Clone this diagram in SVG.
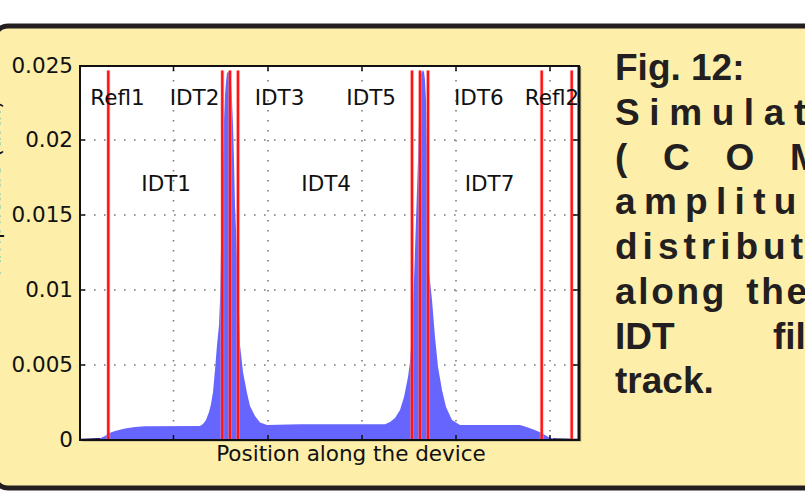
<svg xmlns="http://www.w3.org/2000/svg" width="805" height="496" viewBox="0 0 805 496">
  <style>
    .plot-text { font-family: "DejaVu Sans", Verdana, sans-serif; font-size: 21.5px; fill: #111; }
    .caption { font-family: "Liberation Sans", Arial, Helvetica, sans-serif; font-size: 37px; font-weight: bold; fill: #231f20; }
    .grid { stroke: #7a7a7a; stroke-width: 1.6; stroke-dasharray: 1.6 8.4; fill: none; }
    .tick { stroke: #111; stroke-width: 1.5; }
    .marker-line { stroke: #ff1414; stroke-width: 2.4; }
    .marker-halo { stroke: #ff9a9a; stroke-width: 4; opacity: 0.5; }
  </style>

  <rect width="805" height="496" fill="#ffffff"/>

  <!-- panel background with dark rounded border -->
  <g id="panel">
    <rect x="-6" y="26" width="830" height="462" rx="14" fill="#fdeeaa" stroke="#231f20" stroke-width="5"/>
  </g>

  <!-- plot -->
  <g id="plot">
    <!-- drop shadow -->
    <rect x="82" y="68" width="499.5" height="374" fill="#d9cc94"/>
    <rect x="80" y="66" width="499" height="374" fill="#ffffff"/>

    <!-- dotted grid -->
    <g id="grid">
      <path class="grid" d="M84,140 H576 M84,215 H576 M84,290 H576 M84,365 H576"/>
      <path class="grid" d="M173.5,70 V437 M268,70 V437 M362,70 V437 M456,70 V437 M550,70 V437"/>
    </g>

    <!-- amplitude distribution -->
    <path id="amplitude" fill="#6666ff" d="M80,440 L80,439.5 L90,439.3 L100,438.3 L105,436 L108,433.5 L115,431 L125,428.5 L135,427 L145,426.2 L200,426 L203,424 L206,420 L209,412 L211,404 L213,392 L215,370 L217,345 L219,325 L220,300 L221,250 L222,215 L223,170 L224,120 L225,95 L226,82 L227,73 L229,71 L230,74 L231,85 L232,100 L233,125 L234,160 L235,205 L236,230 L237,260 L238,278 L240,345 L243,372 L247,393 L250,406 L255,416 L260,422.5 L267,425 L300,424.2 L385,424.3 L390,422 L395,418 L400,410 L404,397 L408,377 L410,362 L412,333 L414,280 L416,220 L418,160 L419,120 L420,90 L421,74 L423,70 L424,72 L425,80 L426,100 L427,150 L428,262 L432,300 L435,337 L438,367 L442,390 L446,407 L452,420 L460,425 L520,425 L525,426.5 L530,428.3 L536,430.5 L541,432.7 L545,435 L548,436.7 L552,438.2 L555,439 L565,439.5 L578,439.6 L578,440 Z"/>
    <path d="M80,439.3 L100,438.6 M553,439 L578,439.5" stroke="#1a1a66" stroke-width="1.3" fill="none"/>

    <!-- transducer / reflector boundaries -->
    <g id="boundaries">
      <path class="marker-halo" d="M108.3,70.5 V440 M222.3,70.5 V440 M230,70.5 V440 M238,70.5 V440 M412,70.5 V440 M420,70.5 V440 M428,70.5 V440 M541.7,70.5 V440 M571.7,70.5 V440"/>
      <path class="marker-line" d="M108.3,70.5 V440 M222.3,70.5 V440 M230,70.5 V440 M238,70.5 V440 M412,70.5 V440 M420,70.5 V440 M428,70.5 V440 M541.7,70.5 V440 M571.7,70.5 V440"/>
    </g>

    <!-- region labels -->
    <g id="region-labels" class="plot-text">
      <text x="90.3" y="105">Refl1</text>
      <text x="169.7" y="105">IDT2</text>
      <text x="254.7" y="105">IDT3</text>
      <text x="346.3" y="105">IDT5</text>
      <text x="454" y="105">IDT6</text>
      <text x="524.7" y="105">Refl2</text>
      <text x="141.3" y="191">IDT1</text>
      <text x="301.3" y="191">IDT4</text>
      <text x="464.7" y="191">IDT7</text>
    </g>

    <!-- ticks -->
    <g id="ticks">
      <path class="tick" d="M173.5,66 v5 M268,66 v5 M362,66 v5 M456,66 v5 M550,66 v5 M173.5,440 v-5 M268,440 v-5 M362,440 v-5 M456,440 v-5 M550,440 v-5"/>
      <path class="tick" d="M80,140 h5 M80,215 h5 M80,290 h5 M80,365 h5 M579,140 h-6 M579,215 h-6 M579,290 h-6 M579,365 h-6"/>
    </g>

    <!-- frame -->
    <rect x="80" y="66" width="499" height="374" fill="none" stroke="#111" stroke-width="2"/>
    <path d="M579,66 V441" stroke="#111" stroke-width="3"/>

    <!-- axis labels -->
    <g id="y-axis" class="plot-text" text-anchor="end">
      <text x="73" y="73">0.025</text>
      <text x="73" y="147">0.02</text>
      <text x="73" y="222">0.015</text>
      <text x="73" y="297">0.01</text>
      <text x="73" y="372">0.005</text>
      <text x="73" y="447">0</text>
    </g>
    <text class="plot-text" x="351" y="461" text-anchor="middle">Position along the device</text>
    <!-- y-axis title: only its descenders fall inside the panel -->
    <text class="plot-text" transform="translate(-0.5,274.6) rotate(-90)">Amplitude (a.u.)</text>
  </g>

  <!-- figure caption (justified column, running past the right edge) -->
  <g id="caption" class="caption">
    <text x="615" y="80">Fig. 12:</text>
    <text x="615" y="124.75" letter-spacing="9.6">Simulat</text>
    <text x="615" y="169.5" letter-spacing="35.7">(COM</text>
    <text x="615" y="214.25" letter-spacing="8.3">amplitu</text>
    <text x="615" y="259" letter-spacing="5">distribut</text>
    <text x="615" y="303.75" letter-spacing="2.7" word-spacing="6">along the</text>
    <text x="615" y="348.5" word-spacing="88">IDT fil</text>
    <text x="615" y="393.25">track.</text>
  </g>
</svg>
